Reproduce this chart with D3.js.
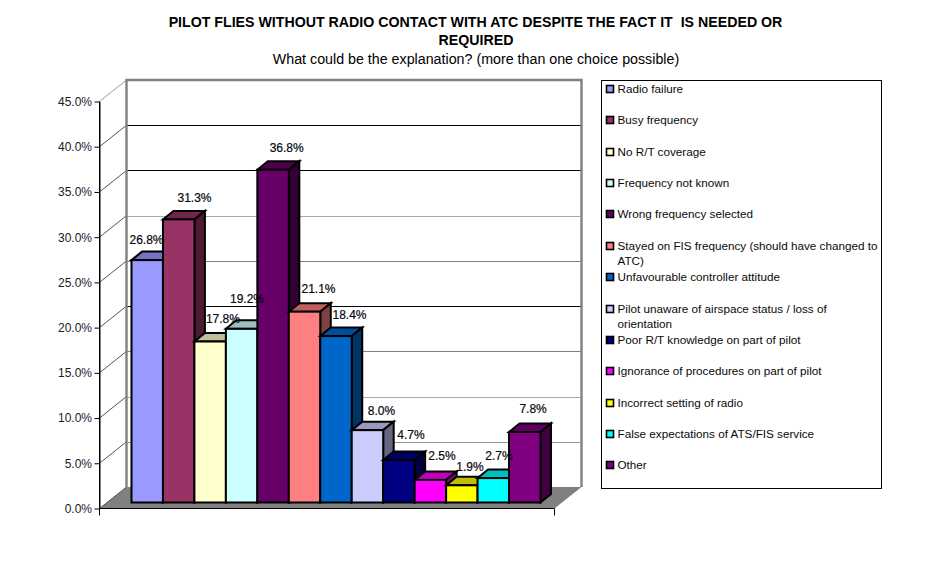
<!DOCTYPE html>
<html><head><meta charset="utf-8">
<script src="https://cdn.jsdelivr.net/npm/d3@7/dist/d3.min.js"></script>
<style>html,body{margin:0;background:#fff}svg{display:block}text{font-family:"Liberation Sans",Arial,sans-serif}</style>
</head><body><svg id="c" width="949" height="561"></svg>
<script>
const categories=["Radio failure","Busy frequency","No R/T coverage","Frequency not known","Wrong frequency selected","Stayed on FIS frequency (should have changed to ATC)","Unfavourable controller attitude","Pilot unaware of airspace status / loss of orientation","Poor R/T knowledge on part of pilot","Ignorance of procedures on part of pilot","Incorrect setting of radio","False expectations of ATS/FIS service","Other"];
const values=[26.8,31.3,17.8,19.2,36.8,21.1,18.4,8.0,4.7,2.5,1.9,2.7,7.8];
const colors=["#9999ff","#993366","#ffffcc","#ccffff","#660066","#ff8080","#0066cc","#ccccff","#000080","#ff00ff","#ffff00","#00ffff","#800080"];
const ticks=[0,5,10,15,20,25,30,35,40,45];
const gridColors={5:"#999",10:"#aaa",15:"#808080",20:"#000",25:"#808080",30:"#aaa",35:"#000",40:"#000"};
const legendLines=[["Radio failure"],["Busy frequency"],["No R/T coverage"],["Frequency not known"],["Wrong frequency selected"],["Stayed on FIS frequency (should have changed to","ATC)"],["Unfavourable controller attitude"],["Pilot unaware of airspace status / loss of","orientation"],["Poor R/T knowledge on part of pilot"],["Ignorance of procedures on part of pilot"],["Incorrect setting of radio"],["False expectations of ATS/FIS service"],["Other"]];
const labelShift=[-0.7,15.8,12.8,5.4,13.6,14,13.5,14,12,11.6,8.2,5.7,8.3];
const labelRise=[16,17,18.5,26,18,19,17,15,21,20,14,18,19];

const svg=d3.select("#c");
const y=d3.scaleLinear().domain([0,45]).range([508.5,101.5]);
const x=d3.scaleBand().domain(categories).range([131.5,540.5]);
const wallDx=27,wallDy=-21.5;
const barDx=10.5,barDy=-8.5,barBase=-6;
function shade(c,k){const r=d3.rgb(c);return d3.rgb(r.r*k,r.g*k,r.b*k).formatHex();}
const line=d3.line();
const xL=99.5,xR=554.5;

svg.append("path").attr("d",line([[xL,y(0)],[xL+wallDx,y(0)+wallDy],[xR+wallDx,y(0)+wallDy],[xR,y(0)]])+"Z").attr("fill","#808080");
ticks.filter(t=>t>0&&t<45).forEach(t=>{
  svg.append("path").attr("d",line([[xL+wallDx,Math.round(y(t)+wallDy)+.5],[xR+wallDx,Math.round(y(t)+wallDy)+.5]])).attr("stroke",gridColors[t]).attr("stroke-width",1.2).attr("fill","none");
});
ticks.forEach(t=>{
  svg.append("path").attr("d",line([[xL,y(t)],[xL+wallDx,y(t)+wallDy]])).attr("stroke",t==45?"#999":"#555").attr("stroke-width",1).attr("fill","none");
});
svg.append("path").attr("d",line([[xL+wallDx,y(0)+wallDy],[xL+wallDx,y(45)+wallDy],[xR+wallDx,y(45)+wallDy],[xR+wallDx,y(0)+wallDy]])).attr("stroke","#808080").attr("stroke-width",2.4).attr("fill","none");
const axisL=d3.axisLeft(y).tickValues(ticks).tickFormat(d=>d.toFixed(1)+"%").tickSize(5).tickSizeOuter(0);
const gy=svg.append("g").attr("transform",`translate(${xL},0)`).call(axisL);
gy.selectAll("text").attr("font-size",12).attr("fill","#1a1a2a").attr("x",-7.5);
gy.selectAll("line,path").attr("stroke","#000");
svg.append("path").attr("d",line([[xL,y(45)],[xL,y(0)+7]])+line([[xL,y(0)],[xR,y(0)]])+line([[xR,y(0)],[xR,y(0)+7]])).attr("stroke","#000").attr("fill","none");

const base=y(0)+barBase;
const hgt=v=>y(0)-y(v);
categories.forEach((c,i)=>{
  const x0=x(c),w=x.bandwidth(),top=base-hgt(values[i]),col=colors[i];
  const g=svg.append("g").attr("stroke","#000").attr("stroke-width",2).attr("stroke-linejoin","miter");
  g.append("path").attr("d",line([[x0,top],[x0+barDx,top+barDy],[x0+w+barDx,top+barDy],[x0+w,top]])+"Z").attr("fill",shade(col,.75));
  g.append("path").attr("d",line([[x0+w,top],[x0+w+barDx,top+barDy],[x0+w+barDx,base+barDy],[x0+w,base]])+"Z").attr("fill",shade(col,.5));
  g.append("rect").attr("x",x0).attr("y",top).attr("width",w).attr("height",base-top).attr("fill",col);
});
categories.forEach((c,i)=>{
  const top=base-hgt(values[i]);
  svg.append("text").attr("x",x(c)+x.bandwidth()/2+labelShift[i]).attr("y",top-labelRise[i]).attr("text-anchor","middle").attr("font-size",12).attr("stroke","#000").attr("stroke-width",.2).attr("fill","#0a0a1a").text(values[i].toFixed(1)+"%");
});
const T=[["PILOT FLIES WITHOUT RADIO CONTACT WITH ATC DESPITE THE FACT IT  IS NEEDED OR",475.5,27],["REQUIRED",476,45]];
T.forEach(t=>svg.append("text").attr("x",t[1]).attr("y",t[2]).attr("text-anchor","middle").attr("font-size",14.2).attr("font-weight",700).attr("xml:space","preserve").attr("fill","#000").text(t[0]));
svg.append("text").attr("x",476).attr("y",64).attr("text-anchor","middle").attr("font-size",14.25).attr("fill","#000").text("What could be the explanation? (more than one choice possible)");
svg.append("rect").attr("x",601.5).attr("y",80.5).attr("width",280).attr("height",408).attr("fill","#fff").attr("stroke","#000");
let ly=[89,120,152,183,214,246,277,309,340,371,403,434,465];
categories.forEach((c,i)=>{
  svg.append("rect").attr("x",606.5).attr("y",ly[i]-3.5).attr("width",7).attr("height",7).attr("fill",colors[i]).attr("stroke","#000").attr("stroke-width",1.6);
  legendLines[i].forEach((s,j)=>svg.append("text").attr("x",617.5).attr("y",ly[i]+4+j*15).attr("font-size",11.7).attr("fill","#0a0a0a").text(s));
});
</script></body></html>
